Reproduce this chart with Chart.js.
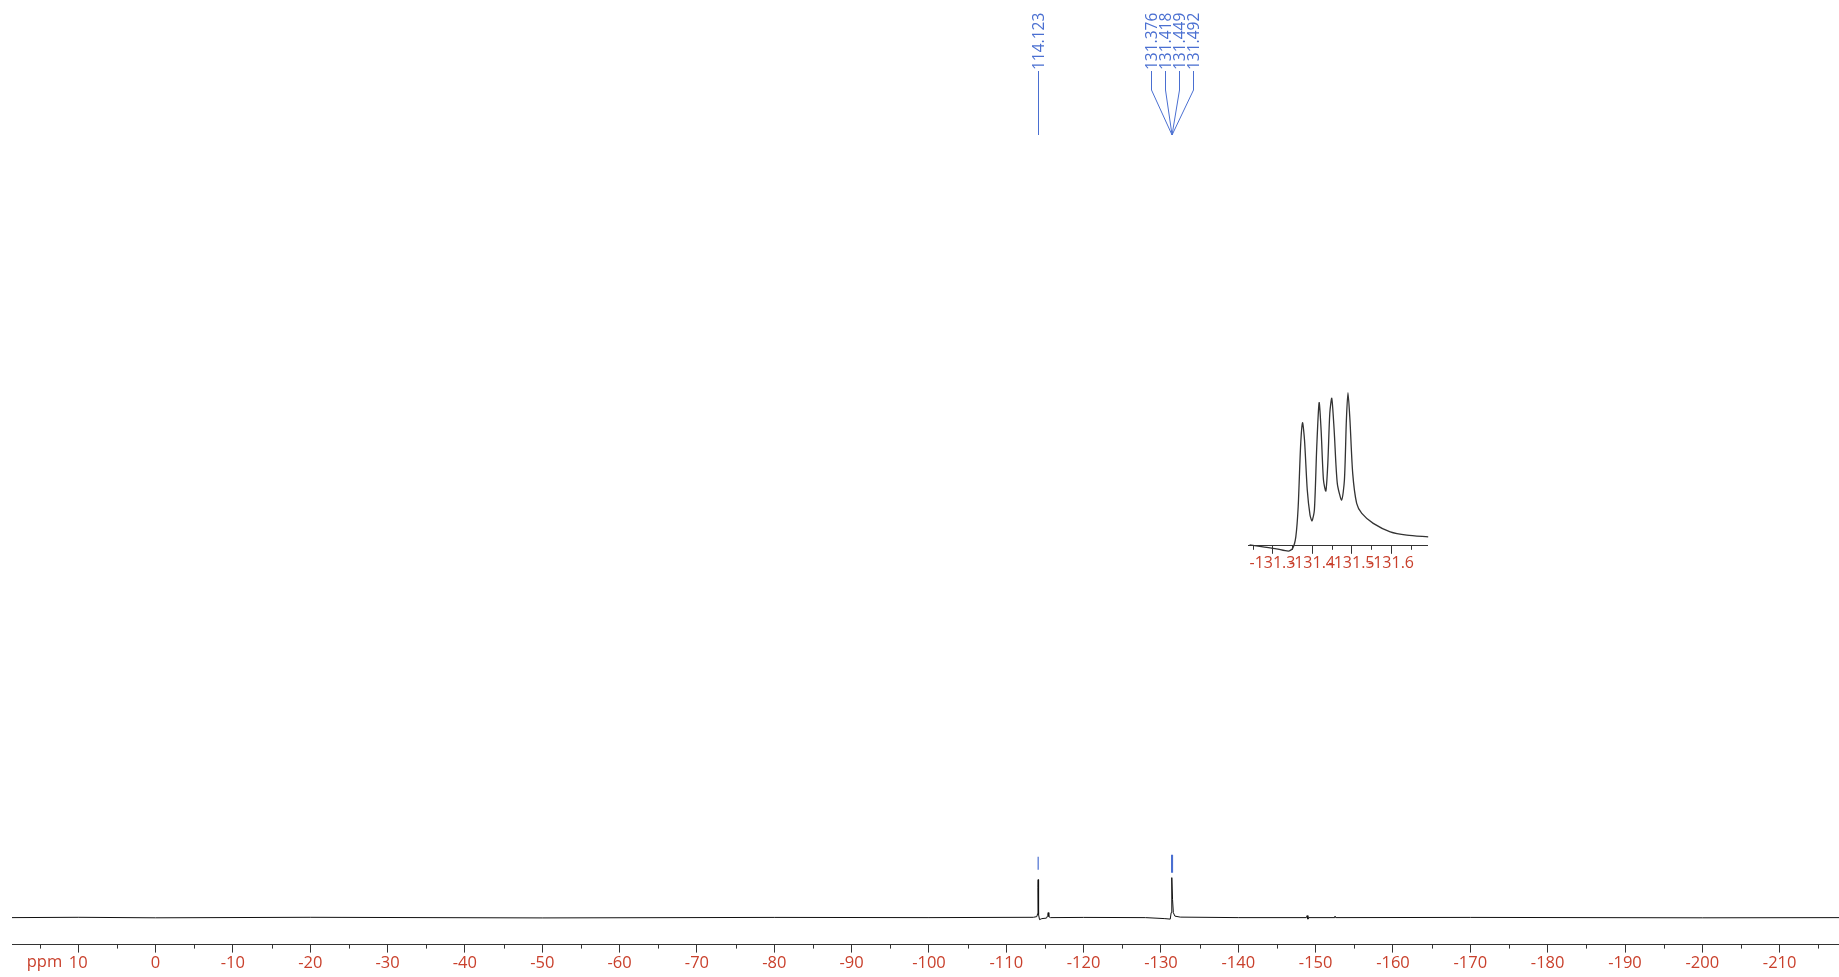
<!DOCTYPE html>
<html>
<head>
<meta charset="utf-8">
<script src="https://cdn.jsdelivr.net/npm/chart.js@4.4.1/dist/chart.umd.min.js"></script>
<style>
  html, body { margin: 0; padding: 0; background: #fff; overflow: hidden; }
  #wrap { position: relative; width: 1839px; height: 977px; }
  #spectrum { position: absolute; left: 0; top: 0; }
  #inset { position: absolute; left: 1240px; top: 380px; }
</style>
</head>
<body>
<div id="wrap">
  <canvas id="spectrum" width="1839" height="977"></canvas>
  <canvas id="inset" width="200" height="200"></canvas>
</div>
<script>
// --- main spectrum (ppm, intensity) ---
const ppm = [18.56, 10, 0, -20, -50, -80, -100, -113.5, -113.95, -114.06, -114.1, -114.123, -114.15, -114.2, -114.3,
  -114.6, -115.2, -115.35, -115.42, -115.5, -115.7, -120, -128, -130.5, -131.2, -131.32, -131.38, -131.42, -131.5,
  -131.6, -131.8, -132.5, -140, -148.8, -148.9, -149, -149.1, -152.4, -152.5, -152.6, -170, -200, -217.67];
const intensity = [0, 0.3, -0.2, 0.3, -0.3, 0.2, 0, 0.3, 1, 4, 30, 38, 25, 3, -2,
  -1, -0.5, 2, 5, 1, 0, 0.2, 0, -1, -1.5, 5, 30, 40, 18,
  5, 1.5, 0.5, 0, 0, 2, -1.5, 0, 0, 1.5, 0, 0.2, -0.2, 0];

// axis ticks
const majorTicks = [10, 0, -10, -20, -30, -40, -50, -60, -70, -80, -90, -100, -110, -120, -130, -140, -150,
  -160, -170, -180, -190, -200, -210];
const minorTicks = [15, 5, -5, -15, -25, -35, -45, -55, -65, -75, -85, -95, -105, -115, -125, -135, -145, -155,
  -165, -175, -185, -195, -205, -215];

// peak picks
const singlePeak = [-114.123];
const groupPeaks = [-131.376, -131.418, -131.449, -131.492];
const markerLow = [48, 45];
const markerHigh = [61, 63];

// --- inset (zoom of the -131.4 multiplet) ---
const insetPpm = [-131.242, -131.276, -131.31, -131.34, -131.351, -131.359, -131.365, -131.371, -131.376, -131.381,
  -131.388, -131.395, -131.4, -131.406, -131.412, -131.418, -131.423, -131.429, -131.435, -131.44, -131.445,
  -131.45, -131.456, -131.464, -131.475, -131.482, -131.487, -131.491, -131.496, -131.503, -131.513, -131.526,
  -131.555, -131.598, -131.64, -131.694];
const insetIntensity = [1, -1, -3, -5.3, -2.6, 9, 39, 99, 123, 105.7,
  55.7, 30.7, 25, 35.7, 99, 143, 115.7, 65.7, 54.7, 82.4, 132.4,
  147.4, 115.7, 62.4, 45.7, 65.7, 125.7, 153, 125.7, 72.4, 42.4, 32.4,
  22.4, 14, 10.7, 9];
const insetMajor = [-131.3, -131.4, -131.5, -131.6];
const insetMinor = [-131.25, -131.35, -131.45, -131.55, -131.65];

const FONT = "'Open Sans', 'Liberation Sans', Arial, sans-serif";
const RED = '#c9402c';
const BLUE = '#4a6fd1';
const AXIS = '#333';

const minorTickPlugin = {
  id: 'minorTicks',
  afterDraw(chart, args, opts) {
    const s = chart.scales.x;
    const ctx = chart.ctx;
    ctx.save();
    ctx.strokeStyle = AXIS;
    ctx.lineWidth = 1;
    ctx.beginPath();
    opts.values.forEach(v => {
      const px = Math.round(s.getPixelForValue(v)) + 0.5;
      ctx.moveTo(px, s.top);
      ctx.lineTo(px, s.top + opts.length);
    });
    ctx.stroke();
    if (opts.unit) {
      ctx.fillStyle = RED;
      ctx.font = '16.5px ' + FONT;
      ctx.textAlign = 'right';
      ctx.textBaseline = 'middle';
      ctx.fillText(opts.unit, s.getPixelForValue(majorTicks[0]) - 16, s.top + 18);
    }
    ctx.restore();
  }
};

const peakLabelPlugin = {
  id: 'peakLabels',
  afterDraw(chart) {
    const s = chart.scales.x;
    const ctx = chart.ctx;
    const textBottom = 70, splitY = 90, tipY = 135, spread = 14.3;
    ctx.save();
    ctx.strokeStyle = BLUE;
    ctx.fillStyle = BLUE;
    ctx.lineWidth = 1;
    ctx.font = '15.5px ' + FONT;
    const label = (v, x) => {
      ctx.save();
      ctx.translate(x + 5.6, textBottom);
      ctx.rotate(-Math.PI / 2);
      ctx.textAlign = 'left';
      ctx.textBaseline = 'alphabetic';
      ctx.fillText((-v).toFixed(3), 0, 0);
      ctx.restore();
    };
    singlePeak.forEach(v => {
      const x = Math.round(s.getPixelForValue(v)) + 0.5;
      label(v, x);
      ctx.beginPath();
      ctx.moveTo(x, textBottom + 1);
      ctx.lineTo(x, tipY);
      ctx.stroke();
    });
    const mean = groupPeaks.reduce((a, b) => a + b, 0) / groupPeaks.length;
    const tipX = s.getPixelForValue(mean);
    groupPeaks.forEach((v, i) => {
      const x = Math.round(tipX + (i - (groupPeaks.length - 1) / 2) * spread) + 0.5;
      label(v, x);
      ctx.beginPath();
      ctx.moveTo(x, textBottom + 1);
      ctx.lineTo(x, splitY);
      ctx.lineTo(tipX, tipY);
      ctx.stroke();
    });
    ctx.restore();
  }
};

// marker segments above the peaks
const markerPts = [];
[singlePeak, groupPeaks].forEach((grp, g) => {
  grp.forEach(v => {
    markerPts.push({ x: v, y: markerLow[g] }, { x: v, y: markerHigh[g] }, { x: v, y: null });
  });
});

new Chart(document.getElementById('spectrum'), {
  type: 'line',
  data: {
    datasets: [
      {
        data: ppm.map((x, i) => ({ x, y: intensity[i] })),
        borderColor: '#111',
        borderWidth: 1,
        pointRadius: 0,
        tension: 0
      },
      {
        data: markerPts,
        borderColor: BLUE,
        borderWidth: 1.2,
        pointRadius: 0,
        spanGaps: false
      }
    ]
  },
  options: {
    responsive: false,
    animation: false,
    devicePixelRatio: 1,
    layout: { padding: { left: 12, right: 0, top: 0, bottom: 2.6 } },
    plugins: {
      legend: { display: false },
      tooltip: { enabled: false },
      minorTicks: { values: minorTicks, length: 4, unit: 'ppm' }
    },
    scales: {
      x: {
        type: 'linear',
        reverse: true,
        min: ppm[ppm.length - 1],
        max: ppm[0],
        afterBuildTicks: s => { s.ticks = majorTicks.map(v => ({ value: v })); },
        ticks: {
          color: RED,
          font: { family: FONT, size: 16.5 },
          padding: 1,
          maxRotation: 0,
          autoSkip: false,
          callback: v => String(v)
        },
        grid: { drawOnChartArea: false, tickLength: 8, color: AXIS, tickColor: AXIS },
        border: { color: AXIS, width: 1 }
      },
      y: { display: false, min: -27, max: 918 }
    }
  },
  plugins: [minorTickPlugin, peakLabelPlugin]
});

new Chart(document.getElementById('inset'), {
  type: 'line',
  data: {
    datasets: [{
      data: insetPpm.map((x, i) => ({ x, y: insetIntensity[i] })),
      borderColor: '#333',
      borderWidth: 1.3,
      pointRadius: 0,
      tension: 0.25,
      clip: false
    }]
  },
  options: {
    responsive: false,
    animation: false,
    devicePixelRatio: 1,
    layout: { padding: { left: 8, right: 13, top: 0, bottom: 7 } },
    plugins: {
      legend: { display: false },
      tooltip: { enabled: false },
      minorTicks: { values: insetMinor, length: 4 }
    },
    scales: {
      x: {
        type: 'linear',
        reverse: true,
        min: -131.691,
        max: -131.238,
        afterBuildTicks: s => { s.ticks = insetMajor.map(v => ({ value: v })); },
        ticks: {
          color: RED,
          font: { family: FONT, size: 16 },
          padding: 0,
          maxRotation: 0,
          autoSkip: false,
          callback: v => v.toFixed(1)
        },
        grid: { drawOnChartArea: false, tickLength: 8, color: AXIS, tickColor: AXIS },
        border: { color: AXIS, width: 1 }
      },
      y: { display: false, min: 0, max: 165.7 }
    }
  },
  plugins: [minorTickPlugin]
});
</script>
</body>
</html>
